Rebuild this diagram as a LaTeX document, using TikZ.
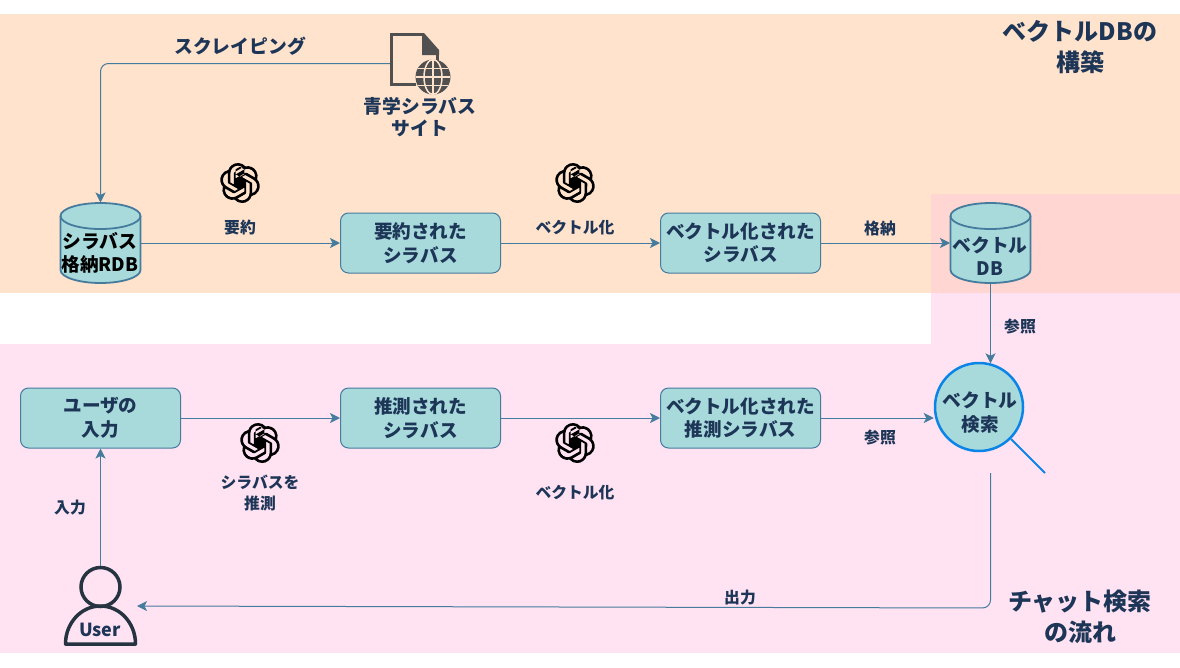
\documentclass[tikz,border=0pt]{standalone}
\usepackage{fontspec}
\setmainfont{Noto Sans CJK JP}
\usetikzlibrary{arrows.meta,svg.path}
\definecolor{buildbg}{HTML}{FFE3CC}
\definecolor{chatbg}{HTML}{FFE3F3}
\definecolor{mixbg}{HTML}{FFD6D1}
\definecolor{boxfill}{HTML}{A8DADC}
\definecolor{boxline}{HTML}{457B9D}
\definecolor{navy}{HTML}{1D3557}
\definecolor{iconbg}{HTML}{505050}
\definecolor{lensline}{HTML}{0B84E8}
\definecolor{usercol}{HTML}{263340}
\tikzset{
  flow/.style={draw=boxline,line width=1pt,-{Stealth[length=10pt,width=10pt,inset=2.5pt]}},
  flowbox/.style={draw=boxline,line width=1pt,fill=boxfill,rounded corners=8pt,minimum width=160pt,minimum height=60pt,
    inner sep=0pt,align=center,text=navy,font=\fontsize{18.6}{23.5}\selectfont\bfseries},
  dbanchor/.style={minimum width=81pt,minimum height=81pt,inner sep=0pt,outer sep=0pt},
  edgelabel/.style={text=navy,align=center,inner sep=0pt,font=\fontsize{15.8}{21}\selectfont\bfseries},
  biglabel/.style={text=navy,align=center,inner sep=0pt,font=\fontsize{18.8}{22}\selectfont\bfseries},
  regiontitle/.style={text=navy,align=center,inner sep=0pt,font=\fontsize{24}{31}\selectfont\bfseries},
  dbdrum/.pic={
    \draw[boxline,fill=boxfill,line width=1.8pt] (-40,-27) arc[start angle=180,end angle=360,x radius=40,y radius=13]
      -- (40,27) arc[start angle=0,end angle=180,x radius=40,y radius=13] -- cycle;
    \draw[boxline,line width=1.8pt] (40,-27) arc[start angle=0,end angle=180,x radius=40,y radius=13];
  },
  gptlogo/.pic={
    \fill[black,even odd rule,xscale=1.667,yscale=-1.667,shift={(-12pt,-12pt)}] svg "M22.2819 9.8211a5.9847 5.9847 0 0 0-.5157-4.9108 6.0462 6.0462 0 0 0-6.5098-2.9A6.0651 6.0651 0 0 0 4.9807 4.1818a5.9847 5.9847 0 0 0-3.9977 2.9 6.0462 6.0462 0 0 0 .7427 7.0966 5.98 5.98 0 0 0 .511 4.9107 6.051 6.051 0 0 0 6.5146 2.9001A5.9847 5.9847 0 0 0 13.2599 24a6.0557 6.0557 0 0 0 5.7718-4.2058 5.9894 5.9894 0 0 0 3.9977-2.9001 6.0557 6.0557 0 0 0-.7475-7.0729zm-9.022 12.6081a4.4755 4.4755 0 0 1-2.8764-1.0408l.1419-.0804 4.7783-2.7582a.7948.7948 0 0 0 .3927-.6813v-6.7369l2.02 1.1686a.071.071 0 0 1 .038.052v5.5826a4.504 4.504 0 0 1-4.4945 4.4944zm-9.6607-4.1254a4.4708 4.4708 0 0 1-.5346-3.0137l.142.0852 4.783 2.7582a.7712.7712 0 0 0 .7806 0l5.8428-3.3685v2.3324a.0804.0804 0 0 1-.0332.0615L9.74 19.9502a4.4992 4.4992 0 0 1-6.1408-1.6464zM2.3408 7.8956a4.485 4.485 0 0 1 2.3655-1.9728V11.6a.7664.7664 0 0 0 .3879.6765l5.8144 3.3543-2.0201 1.1685a.0757.0757 0 0 1-.071 0l-4.8303-2.7865A4.504 4.504 0 0 1 2.3408 7.872zm16.5963 3.8558L13.1038 8.364 15.1192 7.2a.0757.0757 0 0 1 .071 0l4.8303 2.7913a4.4944 4.4944 0 0 1-.6765 8.1042v-5.6772a.79.79 0 0 0-.407-.667zm2.0107-3.0231l-.142-.0852-4.7735-2.7818a.7759.7759 0 0 0-.7854 0L9.409 9.2297V6.8974a.0662.0662 0 0 1 .0284-.0615l4.8303-2.7866a4.4992 4.4992 0 0 1 6.6802 4.66zM8.3065 12.863l-2.02-1.1638a.0804.0804 0 0 1-.038-.0567V6.0742a4.4992 4.4992 0 0 1 7.3757-3.4537l-.142.0805L8.704 5.459a.7948.7948 0 0 0-.3927.6813zm1.0976-2.3654l2.602-1.4998 2.6069 1.4998v2.9994l-2.5974 1.4997-2.6067-1.4997Z";
  }
}
\begin{document}
\begin{tikzpicture}[x=1pt,y=-1pt]
  \useasboundingbox (0,0) rectangle (1180,667);

  % Background regions
  \fill[buildbg] (0,14) rectangle (1180,293);
  \fill[chatbg] (0,344) rectangle (1180,653);
  \fill[chatbg] (931,293) rectangle (1180,344);
  \fill[mixbg] (931,194) rectangle (1180,293);

  % Databases
  \node[dbanchor] (rdb) at (100.5,243) {};
  \node[dbanchor] (vecdb) at (990.5,243) {};
  \pic at (rdb) {dbdrum};
  \pic at (vecdb) {dbdrum};
  \node[biglabel,text=black] (rdbtop) at (100,241) {シラバス};
  \node[biglabel,text=black,font=\fontsize{18.6}{20}\selectfont\bfseries] (rdbbot) at (100,264) {格納RDB};
  \node[biglabel] (vecdbtop) at (990,245) {ベクトル};
  \node[biglabel,font=\fontsize{18.6}{20}\selectfont\bfseries] (vecdbbot) at (990,269) {DB};

  % Process boxes
  \node[flowbox] (summary) at (420.5,243) {要約された\\シラバス};
  \node[flowbox] (vecsyl) at (740.5,243) {ベクトル化された\\シラバス};
  \node[flowbox] (input) at (100.5,418) {ユーザの\\入力};
  \node[flowbox] (guess) at (420.5,418) {推測された\\シラバス};
  \node[flowbox] (vecguess) at (740.5,418) {ベクトル化された\\推測シラバス};

  % Syllabus site icon
  \node[minimum width=48pt,minimum height=60pt,inner sep=0pt] (site) at (414,63.5) {};
  \draw[iconbg,line width=3pt] (416,84.5) -- (391.5,84.5) -- (391.5,34.5) -- (423,34.5);
  \fill[iconbg] (422,33) -- (424,33) -- (439,50) -- (439,55) -- (422,55) -- cycle;
  \draw[iconbg,line width=3pt] (437.5,50) -- (437.5,62);
  \fill[iconbg] (433,77) circle (17.5);
  \draw[buildbg,line width=1.5pt] (433,59) -- (433,95) (416,77) -- (450,77) (418,68.5) -- (448,68.5) (418,85.5) -- (448,85.5);
  \draw[buildbg,line width=1.5pt] (433,77) ellipse (9 and 17.5);

  % Vector search lens
  \node[circle,draw=lensline,fill=boxfill,line width=2.5pt,minimum size=88pt,inner sep=0pt] (search) at (979,407) {};
  \coordinate (lensend) at (1045,473);
  \draw[lensline,line width=2pt] (search.-45) -- (lensend);
  \node[biglabel] (searchtop) at (980,400) {ベクトル};
  \node[biglabel,font=\fontsize{18.6}{20}\selectfont\bfseries] (searchbot) at (980,424) {検索};

  % User icon
  \node[circle,draw=usercol,line width=3.5pt,minimum size=39pt,inner sep=0pt] (user) at (100.5,587) {};
  \draw[usercol,line width=3.5pt,line join=round] (65.5,644) arc[start angle=180,end angle=360,x radius=35,y radius=38] -- cycle;
  \node[text=navy,inner sep=0pt,font=\fontsize{18}{20}\selectfont\bfseries] (userlabel) at (100,630) {User};

  % OpenAI logos
  \pic at (240,183) {gptlogo};
  \pic at (575,183) {gptlogo};
  \pic at (260,443) {gptlogo};
  \pic at (575,443) {gptlogo};

  % Connectors
  \draw[flow,rounded corners=8pt] (site.west) -| (rdb.north);
  \draw[flow] (rdb.east) -- (summary.west);
  \draw[flow] (summary.east) -- (vecsyl.west);
  \draw[flow] (vecsyl.east) -- (vecdb.west);
  \draw[flow] (vecdb.south) -- (vecdb.south |- search.75.5);
  \draw[flow] (input.east) -- (guess.west);
  \draw[flow] (guess.east) -- (vecguess.west);
  \draw[flow] (vecguess.east) -- (vecguess.east -| search.west);
  \draw[flow] (user.north) -- (input.south);
  \coordinate (outstart) at (990.5,473);
  \coordinate (outcorner) at (990.5,608);
  \coordinate (outend) at (137,606);
  \draw[flow,rounded corners=8pt] (outstart) -- (outcorner) -- (outend);

  % Labels
  \node[biglabel] (scrapelabel) at (240,46) {スクレイピング};
  \node[biglabel] (sitelabel) at (420,117) {青学シラバス\\サイト};
  \node[edgelabel] (sumlabel) at (240,228) {要約};
  \node[edgelabel] (veclabel) at (575,228) {ベクトル化};
  \node[edgelabel] (storelabel) at (880,228) {格納};
  \node[edgelabel] (reflabel) at (1020,327) {参照};
  \node[edgelabel] (guesslabel) at (260,493) {シラバスを\\推測};
  \node[edgelabel] (vec2label) at (575,493) {ベクトル化};
  \node[edgelabel] (ref2label) at (880,438) {参照};
  \node[edgelabel] (inlabel) at (70,508) {入力};
  \node[edgelabel] (outlabel) at (740,598) {出力};
  \node[regiontitle] (buildtitle) at (1080,47) {ベクトルDBの\\構築};
  \node[regiontitle] (chattitle) at (1080,617) {チャット検索\\の流れ};
\end{tikzpicture}
\end{document}
